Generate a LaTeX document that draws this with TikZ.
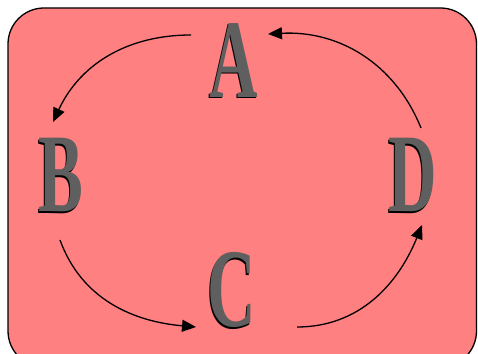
\documentclass[tikz,border=0pt]{standalone}
\usepackage{fontspec}
\setmainfont{Liberation Serif}
\usetikzlibrary{arrows.meta}
\definecolor{bgpink}{RGB}{255,128,128}
\definecolor{lettergray}{RGB}{95,95,95}
\newcommand{\embossed}[1]{\scalebox{0.6}[1]{\rlap{\kern-2pt\raisebox{-1.5pt}{\color{black}#1}}#1}}
\begin{document}
\begin{tikzpicture}[x=1pt,y=1pt,
  letter/.style={inner sep=0pt, text=lettergray, font=\fontsize{112}{112}\bfseries\selectfont},
  conn/.style={line width=1.3pt, -{Triangle[length=14pt,width=12pt]}}]
\useasboundingbox (0,0) rectangle (478,353);
\clip (0,0) rectangle (478,353);
\draw[fill=bgpink, line width=1.3pt, rounded corners=36pt] (8,-14) rectangle (476.5,345);
\node[letter] (A) at (234,292) {\embossed{A}};
\node[letter] (B) at (61,177) {\embossed{B}};
\node[letter] (C) at (232,62) {\embossed{C}};
\node[letter] (D) at (413,177) {\embossed{D}};
\coordinate (ab1) at (191,318);
\coordinate (ab2) at (53,231);
\coordinate (bc1) at (60,113);
\coordinate (bc2) at (196,26);
\coordinate (cd1) at (297,26);
\coordinate (cd2) at (422,128);
\coordinate (da1) at (421,225);
\coordinate (da2) at (268,319);
\draw[conn] (ab1) to[out=180,in=65] (ab2);
\draw[conn] (bc1) to[out=-70,in=175] (bc2);
\draw[conn] (cd1) to[out=0,in=-112] (cd2);
\draw[conn] (da1) to[out=112,in=3] (da2);
\end{tikzpicture}
\end{document}
